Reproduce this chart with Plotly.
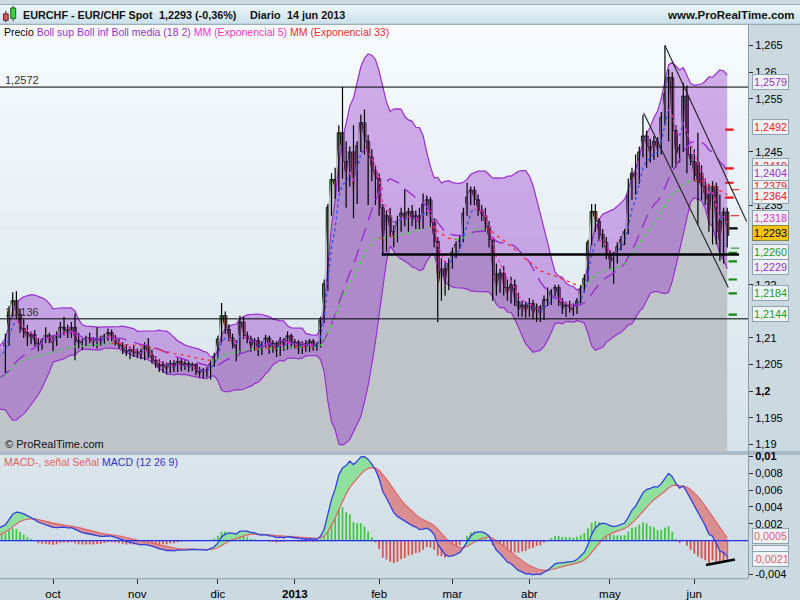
import numpy as np
import pandas as pd
import plotly.graph_objects as go

# ---------------------------------------------------------------- data
dates = pd.bdate_range("2012-09-12", "2013-06-14")   # 198 daily bars

open_ = [
    1.2064, 1.2090, 1.2150, 1.2170, 1.2145, 1.2118, 1.2110, 1.2098, 1.2106, 1.2090,
    1.2082, 1.2096, 1.2105, 1.2095, 1.2088, 1.2105, 1.2120, 1.2115, 1.2108, 1.2120,
    1.2095, 1.2088, 1.2092, 1.2100, 1.2096, 1.2090, 1.2098, 1.2092, 1.2104, 1.2110,
    1.2100, 1.2090, 1.2086, 1.2076, 1.2070, 1.2078, 1.2068, 1.2074, 1.2064, 1.2084,
    1.2068, 1.2058, 1.2050, 1.2042, 1.2050, 1.2038, 1.2052, 1.2040, 1.2056, 1.2044,
    1.2052, 1.2042, 1.2050, 1.2036, 1.2032, 1.2040, 1.2034, 1.2052, 1.2066, 1.2098,
    1.2142, 1.2116, 1.2100, 1.2086, 1.2076, 1.2130, 1.2104, 1.2098, 1.2080, 1.2095,
    1.2072, 1.2088, 1.2100, 1.2076, 1.2090, 1.2070, 1.2096, 1.2082, 1.2104, 1.2084,
    1.2092, 1.2074, 1.2090, 1.2078, 1.2094, 1.2080, 1.2086, 1.2134, 1.2202, 1.2346,
    1.2398, 1.2382, 1.2486, 1.2432, 1.2400, 1.2450, 1.2362, 1.2462, 1.2505, 1.2470,
    1.2440, 1.2415, 1.2400, 1.2345, 1.2270, 1.2330, 1.2300, 1.2290, 1.2320, 1.2335,
    1.2320, 1.2338, 1.2318, 1.2330, 1.2310, 1.2352, 1.2360, 1.2318, 1.2282, 1.2190,
    1.2230, 1.2200, 1.2240, 1.2262, 1.2276, 1.2286, 1.2335, 1.2365, 1.2378, 1.2360,
    1.2340, 1.2330, 1.2310, 1.2285, 1.2220, 1.2190, 1.2222, 1.2195, 1.2180, 1.2200,
    1.2168, 1.2150, 1.2162, 1.2145, 1.2165, 1.2142, 1.2158, 1.2138, 1.2172, 1.2168,
    1.2188, 1.2195, 1.2168, 1.2152, 1.2162, 1.2155, 1.2150, 1.2170, 1.2192, 1.2212,
    1.2280, 1.2338, 1.2320, 1.2295, 1.2280, 1.2258, 1.2240, 1.2250, 1.2272, 1.2285,
    1.2300, 1.2368, 1.2410, 1.2395, 1.2450, 1.2480, 1.2460, 1.2445, 1.2470, 1.2450,
    1.2515, 1.2560, 1.2590, 1.2490, 1.2440, 1.2458, 1.2555, 1.2445, 1.2432, 1.2430,
    1.2410, 1.2385, 1.2370, 1.2315, 1.2385, 1.2320, 1.2276, 1.2337,
]
high = [
    1.2108, 1.2160, 1.2186, 1.2188, 1.2155, 1.2135, 1.2125, 1.2112, 1.2115, 1.2100,
    1.2100, 1.2120, 1.2110, 1.2105, 1.2112, 1.2130, 1.2140, 1.2125, 1.2130, 1.2146,
    1.2110, 1.2100, 1.2104, 1.2110, 1.2102, 1.2120, 1.2104, 1.2108, 1.2118, 1.2116,
    1.2106, 1.2098, 1.2092, 1.2088, 1.2084, 1.2086, 1.2080, 1.2080, 1.2092, 1.2100,
    1.2078, 1.2066, 1.2060, 1.2056, 1.2054, 1.2058, 1.2058, 1.2062, 1.2060, 1.2058,
    1.2056, 1.2054, 1.2052, 1.2046, 1.2044, 1.2046, 1.2058, 1.2072, 1.2104, 1.2166,
    1.2150, 1.2126, 1.2108, 1.2096, 1.2142, 1.2140, 1.2112, 1.2104, 1.2100, 1.2102,
    1.2094, 1.2106, 1.2104, 1.2096, 1.2094, 1.2102, 1.2100, 1.2112, 1.2108, 1.2098,
    1.2096, 1.2094, 1.2096, 1.2098, 1.2098, 1.2092, 1.2140, 1.2210, 1.2352, 1.2410,
    1.2420, 1.2500, 1.2572, 1.2470, 1.2460, 1.2500, 1.2470, 1.2520, 1.2530, 1.2482,
    1.2455, 1.2425, 1.2410, 1.2352, 1.2340, 1.2345, 1.2312, 1.2330, 1.2345, 1.2380,
    1.2345, 1.2350, 1.2340, 1.2345, 1.2372, 1.2368, 1.2365, 1.2325, 1.2290, 1.2250,
    1.2245, 1.2250, 1.2270, 1.2282, 1.2292, 1.2345, 1.2392, 1.2385, 1.2385, 1.2370,
    1.2350, 1.2345, 1.2320, 1.2290, 1.2240, 1.2230, 1.2235, 1.2210, 1.2215, 1.2210,
    1.2185, 1.2170, 1.2168, 1.2175, 1.2172, 1.2165, 1.2162, 1.2180, 1.2195, 1.2192,
    1.2200, 1.2200, 1.2175, 1.2168, 1.2170, 1.2165, 1.2175, 1.2200, 1.2220, 1.2285,
    1.2352, 1.2352, 1.2325, 1.2305, 1.2290, 1.2265, 1.2262, 1.2280, 1.2292, 1.2305,
    1.2400, 1.2420, 1.2445, 1.2460, 1.2520, 1.2490, 1.2475, 1.2480, 1.2478, 1.2525,
    1.2650, 1.2605, 1.2600, 1.2500, 1.2465, 1.2580, 1.2575, 1.2460, 1.2455, 1.2486,
    1.2425, 1.2400, 1.2390, 1.2395, 1.2392, 1.2370, 1.2345, 1.2345,
]
low = [
    1.2034, 1.2085, 1.2140, 1.2135, 1.2110, 1.2100, 1.2085, 1.2088, 1.2085, 1.2075,
    1.2078, 1.2090, 1.2090, 1.2075, 1.2085, 1.2100, 1.2105, 1.2100, 1.2100, 1.2058,
    1.2080, 1.2078, 1.2085, 1.2090, 1.2084, 1.2080, 1.2086, 1.2088, 1.2095, 1.2094,
    1.2086, 1.2080, 1.2070, 1.2066, 1.2060, 1.2064, 1.2062, 1.2060, 1.2058, 1.2062,
    1.2052, 1.2044, 1.2036, 1.2034, 1.2032, 1.2034, 1.2036, 1.2036, 1.2038, 1.2040,
    1.2036, 1.2038, 1.2030, 1.2026, 1.2024, 1.2026, 1.2022, 1.2046, 1.2060, 1.2092,
    1.2108, 1.2094, 1.2080, 1.2056, 1.2070, 1.2098, 1.2090, 1.2074, 1.2076, 1.2066,
    1.2068, 1.2082, 1.2070, 1.2072, 1.2064, 1.2066, 1.2076, 1.2078, 1.2080, 1.2080,
    1.2070, 1.2070, 1.2074, 1.2074, 1.2076, 1.2076, 1.2082, 1.2128, 1.2188, 1.2330,
    1.2362, 1.2375, 1.2400, 1.2345, 1.2385, 1.2325, 1.2352, 1.2450, 1.2445, 1.2350,
    1.2395, 1.2350, 1.2330, 1.2258, 1.2262, 1.2290, 1.2270, 1.2280, 1.2300, 1.2310,
    1.2300, 1.2310, 1.2305, 1.2305, 1.2305, 1.2330, 1.2310, 1.2270, 1.2130, 1.2170,
    1.2180, 1.2190, 1.2230, 1.2250, 1.2268, 1.2280, 1.2330, 1.2350, 1.2350, 1.2330,
    1.2320, 1.2300, 1.2270, 1.2170, 1.2180, 1.2185, 1.2180, 1.2170, 1.2165, 1.2160,
    1.2140, 1.2140, 1.2138, 1.2140, 1.2135, 1.2130, 1.2130, 1.2134, 1.2160, 1.2162,
    1.2178, 1.2160, 1.2145, 1.2140, 1.2148, 1.2142, 1.2145, 1.2165, 1.2185, 1.2205,
    1.2275, 1.2300, 1.2285, 1.2270, 1.2248, 1.2230, 1.2202, 1.2240, 1.2265, 1.2275,
    1.2295, 1.2360, 1.2370, 1.2390, 1.2440, 1.2420, 1.2430, 1.2435, 1.2440, 1.2445,
    1.2500, 1.2470, 1.2420, 1.2420, 1.2430, 1.2450, 1.2410, 1.2425, 1.2395, 1.2313,
    1.2360, 1.2350, 1.2300, 1.2276, 1.2276, 1.2245, 1.2240, 1.2270,
]
close = [
    1.2090, 1.2150, 1.2170, 1.2145, 1.2118, 1.2110, 1.2098, 1.2106, 1.2090, 1.2082,
    1.2096, 1.2105, 1.2095, 1.2088, 1.2105, 1.2120, 1.2115, 1.2108, 1.2120, 1.2095,
    1.2088, 1.2092, 1.2100, 1.2096, 1.2090, 1.2098, 1.2092, 1.2104, 1.2110, 1.2100,
    1.2090, 1.2086, 1.2076, 1.2070, 1.2078, 1.2068, 1.2074, 1.2064, 1.2084, 1.2068,
    1.2058, 1.2050, 1.2042, 1.2050, 1.2038, 1.2052, 1.2040, 1.2056, 1.2044, 1.2052,
    1.2042, 1.2050, 1.2036, 1.2032, 1.2040, 1.2034, 1.2052, 1.2066, 1.2098, 1.2142,
    1.2116, 1.2100, 1.2086, 1.2076, 1.2130, 1.2104, 1.2098, 1.2080, 1.2095, 1.2072,
    1.2088, 1.2100, 1.2076, 1.2090, 1.2070, 1.2096, 1.2082, 1.2104, 1.2084, 1.2092,
    1.2074, 1.2090, 1.2078, 1.2094, 1.2080, 1.2086, 1.2134, 1.2202, 1.2346, 1.2398,
    1.2382, 1.2486, 1.2432, 1.2400, 1.2450, 1.2362, 1.2462, 1.2505, 1.2470, 1.2440,
    1.2415, 1.2400, 1.2345, 1.2270, 1.2330, 1.2300, 1.2290, 1.2320, 1.2335, 1.2320,
    1.2338, 1.2318, 1.2330, 1.2310, 1.2352, 1.2360, 1.2318, 1.2282, 1.2190, 1.2230,
    1.2200, 1.2240, 1.2262, 1.2276, 1.2286, 1.2335, 1.2365, 1.2378, 1.2360, 1.2340,
    1.2330, 1.2310, 1.2285, 1.2220, 1.2190, 1.2222, 1.2195, 1.2180, 1.2200, 1.2168,
    1.2150, 1.2162, 1.2145, 1.2165, 1.2142, 1.2158, 1.2138, 1.2172, 1.2168, 1.2188,
    1.2195, 1.2168, 1.2152, 1.2162, 1.2155, 1.2150, 1.2170, 1.2192, 1.2212, 1.2280,
    1.2338, 1.2320, 1.2295, 1.2280, 1.2258, 1.2240, 1.2250, 1.2272, 1.2285, 1.2300,
    1.2368, 1.2410, 1.2395, 1.2450, 1.2480, 1.2460, 1.2445, 1.2470, 1.2450, 1.2515,
    1.2560, 1.2590, 1.2490, 1.2440, 1.2458, 1.2555, 1.2445, 1.2432, 1.2405, 1.2393,
    1.2385, 1.2362, 1.2315, 1.2385, 1.2300, 1.2276, 1.2337, 1.2293,
]

# closes before the first visible bar (Aug 1 - Sep 11 2012), only used to seed the indicators
warm_close = [
    1.2011, 1.2010, 1.2010, 1.2011, 1.2010, 1.2010, 1.2009, 1.2010, 1.2011, 1.2010,
    1.2010, 1.2010, 1.2011, 1.2010, 1.2010, 1.2009, 1.2010, 1.2011, 1.2010, 1.2010,
    1.2011, 1.2010, 1.2010, 1.2012, 1.2013, 1.2016, 1.2085, 1.2092, 1.2083, 1.2078,
]

month_labels = ["oct", "nov", "dic", "<b>2013</b>", "feb", "mar", "abr", "may", "jun"]

# axis ticks that remain visible (the others sit under the value tags)
price_ticks = [1.19, 1.195, 1.2, 1.205, 1.21, 1.22, 1.235, 1.245, 1.255, 1.26, 1.265]
price_tick_text = ["1,19", "1,195", "<b>1,2</b>", "1,205", "1,21", "1,22", "1,235",
                   "1,245", "1,255", "1,26", "1,265"]
macd_ticks = [-0.004, 0.002, 0.004, 0.006, 0.008, 0.01]
macd_tick_text = ["-0,004", "0,002", "0,004", "0,006", "0,008", "<b>0,01</b>"]

level_lines = [1.2572, 1.2136]
level_text = ["1,2572", "1,2136"]
support_level = 1.2257
support_span = [102.7, 200.2]
trend_a = [(180.0, 1.2650), (202.3, 1.2319)]
trend_b = [(174.2, 1.2523), (197.3, 1.2195)]
macd_trend = [(191.2, -0.0029), (199.1, -0.00224)]

PURPLE, RED, MAGENTA, GREEN = "#9a2fd0", "#f02020", "#f030c8", "#239a23"
# (value, text, colour, pixel nudge) - drawn in order, later ones on top
price_tags = [
    (1.2419, "1,2419", RED, 2.0),
    (1.2379, "1,2379", RED, 3.5),
    (1.2579, "1,2579", PURPLE, 1.8),
    (1.2492, "1,2492", RED, 2.2),
    (1.2404, "1,2404", PURPLE, 3.6),
    (1.2364, "1,2364", RED, 2.0),
    (1.2318, "1,2318", MAGENTA, 3.6),
    (1.2260, "1,2260", GREEN, 1.4),
    (1.2229, "1,2229", PURPLE, 2.0),
    (1.2184, "1,2184", GREEN, 0.5),
    (1.2144, "1,2144", GREEN, 0.4),
]
last_price = (1.2293, "1,2293", 2.0)
macd_tags = [
    (-0.00153, "\u00a0", 0.0),
    (0.0005, "0,0005", 0.0),
    (-0.0021, "-0,0021", -1.0),
]
pivot_red = [1.2492, 1.2419, 1.2392, 1.2364]
pivot_red_thin = [1.2379, 1.2330]
pivot_green = [1.2260, 1.2244, 1.2210, 1.2184, 1.2144]
pivot_green_thin = [1.2269]
pivot_black = [1.2306]

# ---------------------------------------------------------------- indicators
n = len(close)
nw = len(warm_close)
full = pd.Series(warm_close + close)
fidx = np.arange(-nw, n)
sma = full.rolling(18).mean()
sd = full.rolling(18).std(ddof=0)
upper = sma + 2 * sd
lower = sma - 2 * sd
ema5 = full.ewm(span=5, adjust=False).mean()
ema33 = full.ewm(span=33, adjust=False).mean()
macd = full.ewm(span=12, adjust=False).mean() - full.ewm(span=26, adjust=False).mean()
sig = macd.ewm(span=9, adjust=False).mean()
hist = macd - sig

vis = fidx >= -2
vx = fidx[vis].tolist()


def V(s):
    return s[vis].tolist()


def slope_runs(x, y):
    ux, uy, dx, dy = [], [], [], []
    i, m = 1, len(y)
    while i < m:
        rising = y[i] >= y[i - 1]
        j = i
        while j + 1 < m and (y[j + 1] >= y[j]) == rising:
            j += 1
        sx, sy = list(x[i - 1:j + 1]), list(y[i - 1:j + 1])
        if rising:
            ux += sx + [None]; uy += sy + [None]
        else:
            dx += sx + [None]; dy += sy + [None]
        i = j + 1
    return ux, uy, dx, dy


def cross_polys(x, a, b):
    out = {True: ([], []), False: ([], [])}
    sx, sa, sb = [x[0]], [a[0]], [b[0]]
    sign = a[0] >= b[0]

    def flush(sign, sx, sa, sb):
        px_, py_ = out[sign]
        px_ += sx + sx[::-1] + [None]
        py_ += sa + sb[::-1] + [None]

    for k in range(1, len(x)):
        s = a[k] >= b[k]
        if s != sign:
            d0, d1 = a[k - 1] - b[k - 1], a[k] - b[k]
            t = d0 / (d0 - d1)
            xc = x[k - 1] + t * (x[k] - x[k - 1])
            yc = a[k - 1] + t * (a[k] - a[k - 1])
            sx.append(xc); sa.append(yc); sb.append(yc)
            flush(sign, sx, sa, sb)
            sx, sa, sb = [xc], [yc], [yc]
            sign = s
        sx.append(x[k]); sa.append(a[k]); sb.append(b[k])
    flush(sign, sx, sa, sb)
    return out


# ---------------------------------------------------------------- geometry
W, H = 800, 600
PLOT_R = 748
P_TOP, P_BOT = 20.7, 452.0
M_TOP, M_BOT = 455.0, 580.0
XR = [-1.474, 202.67]
YR = [1.18865, 1.26897]
MR = [-0.00447, 0.010235]


def px(x):
    return x / W


def py(y):
    return 1 - y / H


fig = go.Figure()

# price area (grey mountain under the close)
fig.add_trace(go.Scatter(x=vx, y=V(full), mode="lines", line=dict(width=0),
                         fill="tozeroy", fillcolor="#bec4c8", hoverinfo="skip"))
# Bollinger
fig.add_trace(go.Scatter(x=vx, y=V(lower), mode="lines", line=dict(color="#9a2fd0", width=1.2)))
fig.add_trace(go.Scatter(x=vx, y=V(upper), mode="lines", line=dict(color="#9a2fd0", width=1.2),
                         fill="tonexty", fillcolor="rgba(150,45,205,0.38)"))

# candles
idx = list(range(n))
wx, wy = [], []
for i in range(n):
    wx += [i, i, None]
    wy += [low[i], high[i], None]
fig.add_trace(go.Scatter(x=wx, y=wy, mode="lines", line=dict(color="black", width=1.2),
                         hoverinfo="skip"))
o = np.array(open_); c = np.array(close)
body_base = np.minimum(o, c)
body_h = np.maximum(np.abs(c - o), 0.00004)
body_col = ["#4ce84c" if c[i] >= o[i] else "#f4887c" for i in range(n)]
fig.add_trace(go.Bar(x=idx, y=body_h.tolist(), base=body_base.tolist(), width=0.86,
                     marker=dict(color=body_col, line=dict(color="black", width=0.9))))

# Bollinger middle + EMAs
fig.add_trace(go.Scatter(x=vx, y=V(sma), mode="lines",
                         line=dict(color="#9a2fd0", width=1.4, dash="14px,8px")))
ux, uy, dx, dy = slope_runs(vx, V(ema33))
fig.add_trace(go.Scatter(x=ux, y=uy, mode="lines", line=dict(color="#30e030", width=1.3, dash="3px,4px")))
fig.add_trace(go.Scatter(x=dx, y=dy, mode="lines", line=dict(color="#ff2828", width=1.3, dash="3px,4px")))
ux, uy, dx, dy = slope_runs(vx, V(ema5))
fig.add_trace(go.Scatter(x=ux, y=uy, mode="lines", line=dict(color="#2a55ee", width=1.3, dash="3px,3px")))
fig.add_trace(go.Scatter(x=dx, y=dy, mode="lines", line=dict(color="#ff30c8", width=1.3, dash="3px,3px")))


def pivots(vals, color, xpos, lw):
    fig.add_trace(go.Scatter(x=[xpos] * len(vals), y=vals, mode="markers",
                             marker=dict(symbol="line-ew", size=6, color=color,
                                         line=dict(color=color, width=lw))))


pivots(pivot_red, "#ee1111", 197.6, 2.2)
pivots(pivot_red_thin, "#ee1111", 199.1, 1)
pivots(pivot_green, "#118811", 198.5, 2.2)
pivots(pivot_green_thin, "#118811", 199.1, 1)
pivots(pivot_black, "#000000", 198.7, 2.2)

# ---------------------------------------------------------------- MACD panel
mx = vx
ma, sa = V(macd), V(sig)
polys = cross_polys(mx, ma, sa)
fig.add_trace(go.Scatter(x=polys[True][0], y=polys[True][1], mode="lines", fill="toself",
                         fillcolor="#8ee09c", line=dict(width=0), xaxis="x2", yaxis="y2"))
fig.add_trace(go.Scatter(x=polys[False][0], y=polys[False][1], mode="lines", fill="toself",
                         fillcolor="#d98e92", line=dict(width=0), xaxis="x2", yaxis="y2"))
hv = V(hist)
fig.add_trace(go.Bar(x=mx, y=hv, width=0.5, xaxis="x2", yaxis="y2",
                     marker=dict(color=["#44c844" if v >= 0 else "#e05252" for v in hv],
                                 line=dict(width=0))))
fig.add_trace(go.Scatter(x=mx, y=sa, mode="lines", line=dict(color="#e06464", width=1.2),
                         xaxis="x2", yaxis="y2"))
fig.add_trace(go.Scatter(x=mx, y=ma, mode="lines", line=dict(color="#3040e0", width=1.3),
                         xaxis="x2", yaxis="y2"))

# ---------------------------------------------------------------- shapes
shapes = []


def rect(x0, y0, x1, y1, color, layer="below", line=None):
    shapes.append(dict(type="rect", xref="paper", yref="paper", x0=px(x0), x1=px(x1),
                       y0=py(y0), y1=py(y1), fillcolor=color, layer=layer,
                       line=line or dict(width=0)))


def grad(x0, y0, x1, y1, c0, c1, steps):
    for k in range(steps):
        t = k / max(steps - 1, 1)
        col = "rgb(%d,%d,%d)" % tuple(round(c0[j] + (c1[j] - c0[j]) * t) for j in range(3))
        ya = y0 + (y1 - y0) * k / steps
        yb = y0 + (y1 - y0) * (k + 1) / steps + 0.5
        rect(x0, ya, x1, min(yb, y1), col)


def pline(x0, y0, x1, y1, color, width=1, layer="above"):
    shapes.append(dict(type="line", xref="paper", yref="paper", x0=px(x0), x1=px(x1),
                       y0=py(y0), y1=py(y1), line=dict(color=color, width=width), layer=layer))


grad(0, 0, W, 20.5, (236, 247, 251), (204, 225, 235), 8)           # header
grad(0, P_TOP, PLOT_R, P_BOT, (247, 251, 253), (214, 227, 234), 36)  # price panel
grad(0, M_TOP, PLOT_R, M_BOT, (219, 230, 236), (205, 219, 227), 14)  # macd panel
pline(0, 0.5, W, 0.5, "#9cadb7", 1, "below")
pline(0, 20.5, W, 20.5, "#8a9ea9", 1, "below")
pline(0, P_BOT + 0.5, W, P_BOT + 0.5, "#8a9ea9", 1, "below")
pline(0, M_TOP - 0.5, W, M_TOP - 0.5, "#8a9ea9", 1, "below")
pline(0, M_BOT + 0.5, PLOT_R, M_BOT + 0.5, "#8a9ea9", 1, "below")
pline(PLOT_R + 0.5, 20.5, PLOT_R + 0.5, M_BOT, "#8a9ea9", 1, "below")

# header icon
pline(5.8, 7, 5.8, 18.5, "#333", 1)
rect(3.5, 10, 8.2, 16.5, "#e05252", "above", dict(color="#702020", width=1))
pline(13.2, 2, 13.2, 17.5, "#333", 1)
rect(10.7, 4, 15.7, 14.5, "#3ad43a", "above", dict(color="#206020", width=1))

for lv in level_lines:
    shapes.append(dict(type="line", xref="paper", yref="y", x0=0, x1=px(PLOT_R), y0=lv, y1=lv,
                       line=dict(color="#000", width=1)))
shapes.append(dict(type="line", xref="x", yref="y", x0=support_span[0], x1=support_span[1],
                   y0=support_level, y1=support_level, line=dict(color="#000", width=2.6)))
for (a, b) in (trend_a, trend_b):
    shapes.append(dict(type="line", xref="x", yref="y", x0=a[0], y0=a[1], x1=b[0], y1=b[1],
                       line=dict(color="#202020", width=1.1)))
shapes.append(dict(type="line", xref="paper", yref="y2", x0=0, x1=px(PLOT_R), y0=0, y1=0,
                   line=dict(color="#2030e8", width=1.3)))
shapes.append(dict(type="line", xref="x2", yref="y2", x0=macd_trend[0][0], y0=macd_trend[0][1],
                   x1=macd_trend[1][0], y1=macd_trend[1][1], line=dict(color="#000", width=2.6)))

# ---------------------------------------------------------------- annotations
ann = []
FONT = "Arial, Liberation Sans, sans-serif"


def text(x, y, s, size=10.5, color="#000", anchor="left"):
    ann.append(dict(xref="paper", yref="paper", x=px(x), y=py(y), text=s, showarrow=False,
                    xanchor=anchor, yanchor="middle", font=dict(family=FONT, size=size, color=color)))


text(21, 11, "<b>EURCHF - EUR/CHF Spot</b>", 10.8, "#111")
text(157, 11, "<b>1,2293 (-0,36%)</b>", 10.8, "#111")
text(248, 11, "<b>Diario</b>", 10.8, "#111")
text(285, 11, "<b>14 jun 2013</b>", 10.8, "#111")
text(797, 11, "<b>www.ProRealTime.com</b>", 11.5, "#111", "right")
text(2, 28, "Precio <span style='color:#9933cc'>Boll sup Boll inf Boll media (18 2)</span> "
            "<span style='color:#ff33cc'>MM (Exponencial 5)</span> "
            "<span style='color:#ff2a2a'>MM (Exponencial 33)</span>", 10.5)
text(2, 462.5, "<span style='color:#e06464'>MACD-, señal Señal</span> "
               "<span style='color:#3333cc'>MACD (12 26 9)</span>", 10.5)
text(3, 444.5, "© ProRealTime.com", 11, "#111")
text(3, 76.5, level_text[0], 11, "#333")
text(3, 311.5, level_text[1], 11, "#333")


def tag(val, s, color, nudge, yref, bg="#edf3f6", border="#8fa2ad"):
    ann.append(dict(xref="paper", yref=yref, x=px(751.5), y=val, yshift=nudge, text=s,
                    showarrow=False, xanchor="left", yanchor="middle", width=33, height=12,
                    align="center", bgcolor=bg, bordercolor=border, borderwidth=1, borderpad=1,
                    font=dict(family=FONT, size=10.8, color=color)))


for (v, s, col, nd) in price_tags:
    tag(v, s, col, nd, "y")
tag(last_price[0], last_price[1], "#000", last_price[2], "y", "#f7c600", "#8d8250")
for (v, s, nd) in macd_tags:
    tag(v, s, "#e0606c", nd, "y2")

# ---------------------------------------------------------------- layout
months = dates.to_period("M")
tick_idx = [i for i in range(1, n) if months[i] != months[i - 1]]

axis_common = dict(showgrid=False, zeroline=False, showline=False, fixedrange=True)
fig.update_layout(
    width=W, height=H, autosize=False, margin=dict(l=0, r=0, t=0, b=0, pad=0),
    paper_bgcolor="#cbd9e1", plot_bgcolor="rgba(0,0,0,0)", showlegend=False,
    barmode="overlay", hovermode=False,
    font=dict(family=FONT, size=11, color="#000"),
    xaxis=dict(domain=[0, px(PLOT_R)], range=XR, anchor="y", showticklabels=False, ticks="",
               **axis_common),
    yaxis=dict(domain=[py(P_BOT), py(P_TOP)], range=YR, side="right", anchor="x",
               tickmode="array", tickvals=price_ticks, ticktext=price_tick_text,
               ticks="outside", ticklen=4, tickcolor="#333", tickfont=dict(size=11),
               **axis_common),
    xaxis2=dict(domain=[0, px(PLOT_R)], range=XR, anchor="y2", tickmode="array",
                tickvals=tick_idx, ticktext=month_labels, ticks="outside", ticklen=5,
                tickcolor="#333", tickfont=dict(size=11.5), **axis_common),
    yaxis2=dict(domain=[py(M_BOT), py(M_TOP)], range=MR, side="right", anchor="x2",
                tickmode="array", tickvals=macd_ticks, ticktext=macd_tick_text,
                ticks="outside", ticklen=4, tickcolor="#333", tickfont=dict(size=11),
                **axis_common),
    shapes=shapes, annotations=ann,
)

fig.write_html("out.html", config={"displayModeBar": False, "staticPlot": True},
               post_script="document.body.style.margin='0px';")
